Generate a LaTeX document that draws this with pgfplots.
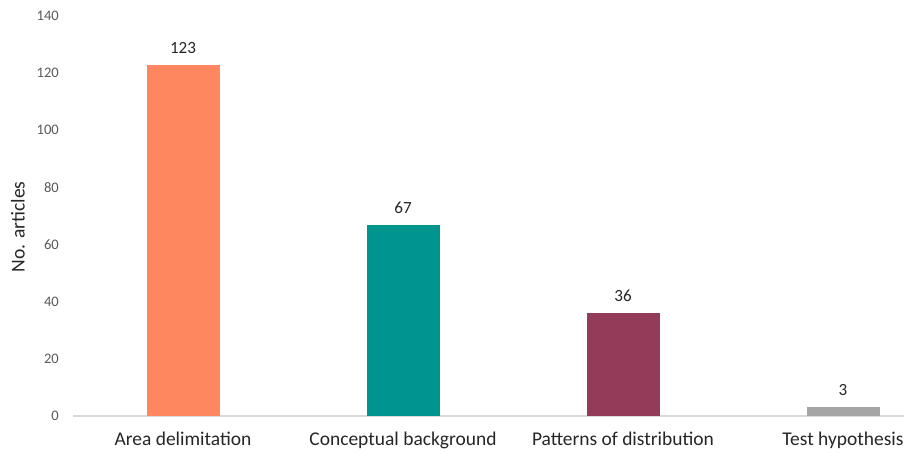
\documentclass[border=0pt]{standalone}
\usepackage{fontspec}
\setmainfont{Carlito}
\usepackage{pgfplots}
\pgfplotsset{compat=1.18}

\definecolor{barcoral}{HTML}{FF875F}
\definecolor{barteal}{HTML}{00948F}
\definecolor{barwine}{HTML}{943B5A}
\definecolor{bargray}{HTML}{A5A5A5}
\definecolor{ticktext}{HTML}{595959}
\definecolor{labeltext}{HTML}{262626}
\definecolor{baseline}{HTML}{D9D9D9}

\begin{document}
\begin{tikzpicture}
\path[use as bounding box] (0,0) rectangle (678pt,339.75pt);
\clip (0,0) rectangle (678pt,339.75pt);
\begin{axis}[
  at={(54.75pt,27.75pt)}, anchor=south west,
  scale only axis, width=660pt, height=300pt,
  xmin=-0.5, xmax=3.5, ymin=0, ymax=140,
  ytick={0,20,...,140},
  xtick={0,1,2,3},
  xticklabels={Area delimitation, Conceptual background, Patterns of distribution, Test hypothesis},
  axis lines*=left,
  axis line style={-},
  x axis line style={draw=baseline, line width=1pt},
  y axis line style={draw=none},
  major tick length=0pt,
  tick style={draw=none},
  /pgf/number format/assume math mode=true,
  yticklabel style={font=\fontsize{10.9pt}{12pt}\selectfont, text=ticktext, anchor=east, inner sep=0pt, xshift=-10.5pt},
  xticklabel style={font=\fontsize{14.6pt}{16pt}\selectfont, text=labeltext, anchor=base, inner sep=0pt, yshift=-22.5pt},
  ylabel={No. articles},
  ylabel style={font=\fontsize{14.7pt}{16pt}\selectfont, text=labeltext, at={(axis description cs:-0.0625,0.4725)}, anchor=center, rotate=0},
  ybar, bar width=54.75pt, bar shift=0pt,
  nodes near coords,
  every node near coord/.append style={font=\fontsize{12.8pt}{14pt}\selectfont, text=labeltext, anchor=base, inner sep=0pt, yshift=8.6pt},
]
\addplot[fill=barcoral, draw=none] coordinates {(0,123)};
\addplot[fill=barteal, draw=none] coordinates {(1,67)};
\addplot[fill=barwine, draw=none] coordinates {(2,36)};
\addplot[fill=bargray, draw=none] coordinates {(3,3)};
\end{axis}
\end{tikzpicture}
\end{document}
